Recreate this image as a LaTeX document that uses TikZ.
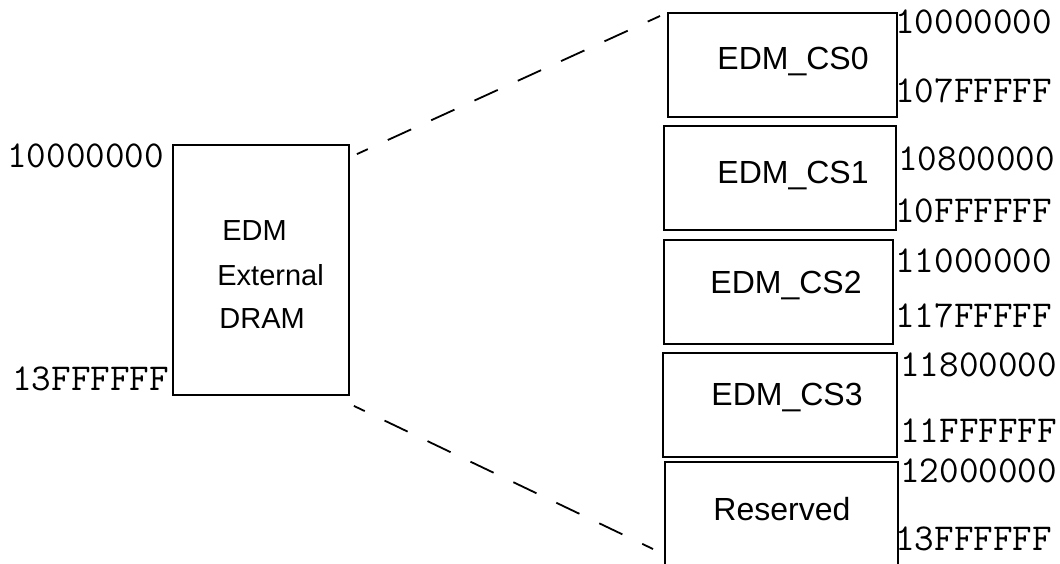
\documentclass[tikz,border=0pt]{standalone}
\usepackage{fontspec}
\setmainfont{Liberation Sans}

\begin{document}
\begin{tikzpicture}[x=0.5pt,y=-0.5pt,
    blk/.style={draw,line width=0.9pt,inner sep=0pt},
    addr/.style={font=\ttfamily\fontsize{19}{19}\selectfont,anchor=base west,inner sep=0pt},
    lbl/.style={font=\fontsize{16}{16}\selectfont,anchor=base west,inner sep=0pt},
    sublbl/.style={font=\fontsize{14.5}{14.5}\selectfont,anchor=base west,inner sep=0pt},
    zoomline/.style={line width=0.9pt,dash pattern=on 12.8pt off 11pt,dash phase=6.8pt}]
  \clip (0,0) rectangle (1060,563);

  \node[blk,minimum width=88pt,minimum height=125pt] (dram) at (261,270) {};
  \node[sublbl] (dram1) at (222,240) {EDM};
  \node[sublbl] (dram2) at (217,285) {External};
  \node[sublbl] (dram3) at (219,328) {DRAM};
  \node[addr] (dramtop) at (7,167) {10000000};
  \node[addr] (drambot) at (12,390) {13FFFFFF};

  \foreach \n/\cx/\cy/\w/\h in {cs0/782.5/65/114.5/52, cs1/780/178/116/52,
      cs2/778.5/292/114.5/52, cs3/780/405/117/52, rsv/781.5/521/116.5/59} {
    \node[blk,minimum width=\w pt,minimum height=\h pt] (\n) at (\cx,\cy) {};
  }
  \foreach \t/\tx/\ty [count=\i] in {EDM\_CS0/717/69, EDM\_CS1/717/183,
      EDM\_CS2/710/293, EDM\_CS3/711/405, Reserved/713/520} {
    \node[lbl] (t\i) at (\tx,\ty) {\t};
  }
  \foreach \a/\px/\py [count=\i] in {10000000/895/33, 107FFFFF/895/102,
      10800000/898/170, 10FFFFFF/895/222, 11000000/895/272, 117FFFFF/895/327,
      11800000/900/376, 11FFFFFF/900/442, 12000000/900/482, 13FFFFFF/895/550} {
    \node[addr] (a\i) at (\px,\py) {\a};
  }

  \coordinate (up) at (660,16);
  \coordinate (lo) at (653,549);
  \draw[zoomline] ([shift={(7,10)}]dram.north east) -- (up);
  \draw[zoomline] ([shift={(4,10)}]dram.south east) -- (lo);
\end{tikzpicture}
\end{document}
